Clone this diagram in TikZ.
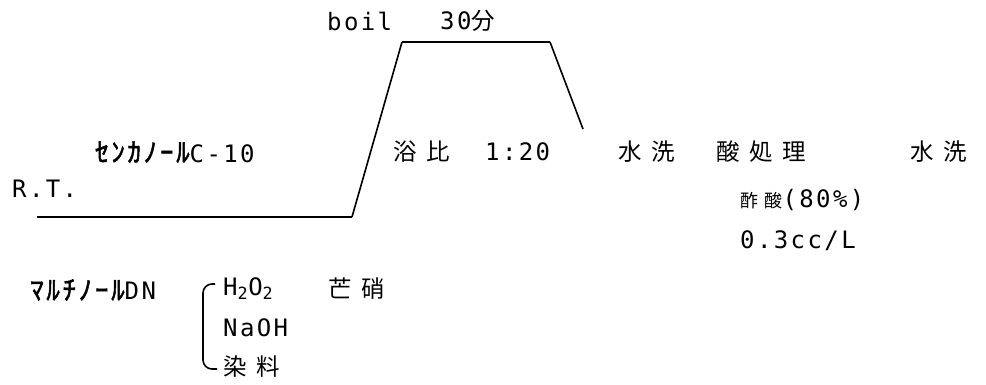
\documentclass[tikz,border=0pt]{standalone}
\usepackage{fontspec}
\setmainfont{DejaVu Sans Mono}[LetterSpace=10]
\newfontfamily\jp{Noto Sans CJK JP}[LetterSpace=42]
\newfontfamily\jpsmall{Noto Sans CJK JP}[LetterSpace=35]
\newfontfamily\jpb{Noto Sans CJK JP}[FakeBold=1.8,LetterSpace=10]

\tikzstyle{txt} = [anchor=west,inner sep=0pt,font=\fontsize{24}{28}\selectfont]
\tikzstyle{jptxt} = [anchor=west,inner sep=0pt,font=\fontsize{23.5}{28}\selectfont\jp]
\tikzstyle{flat} = [line width=2.6pt]
\tikzstyle{ramp} = [line width=1.6pt]

\begin{document}
\begin{tikzpicture}[x=1pt,y=-1pt]

	\useasboundingbox (0,0) rectangle (986,385);

	% temperature curve
	\coordinate (start) at (37,217);
	\coordinate (up) at (352,217);
	\coordinate (top_l) at (402,42);
	\coordinate (top_r) at (550,42);
	\coordinate (down) at (583,129);

	\draw[flat] (start) -- (up);
	\draw[ramp] (up) -- (top_l);
	\draw[flat] (top_l) -- (top_r);
	\draw[ramp] (top_r) -- (down);

	% labels
	\node (boil) [txt] at (327,21) {boil};
	\node (time) [txt] at (440,21) {30{\fontsize{23.5}{28}\selectfont\jp 分}};
	\node (rt) [txt] at (12,189) {R.T.};
	\node (senka) [txt] at (95,152) {{\fontsize{27}{32}\selectfont\jpb ｾﾝｶﾉｰﾙ}C-10};
	\node (ratio_j) [jptxt] at (393,152) {浴比};
	\node (ratio) [txt] at (485,152) {1:20};
	\node (wash1) [jptxt] at (618,152) {水洗};
	\node (acid) [jptxt] at (716,152) {酸処理};
	\node (wash2) [jptxt] at (910,152) {水洗};
	\node (acetic) [txt] at (740,200) {{\fontsize{18}{22}\selectfont\jpsmall 酢酸}(80\%)};
	\node (dose) [txt] at (740,241) {0.3cc/L};
	\node (maru) [txt] at (30,290) {{\fontsize{27}{32}\selectfont\jpb ﾏﾙﾁﾉｰﾙ}DN};
	\node (h2o2) [txt] at (223,289) {H\textsubscript{2}O\textsubscript{2}};
	\node (bosho) [jptxt] at (328,289) {芒硝};
	\node (naoh) [txt] at (223,328) {NaOH};
	\node (dye) [jptxt] at (223,367) {染料};

	% bracket
	\coordinate (br_top) at (215,284);
	\coordinate (br_bot) at (217,369);
	\draw[ramp,rounded corners=9pt] (br_top) -- (203,284) -- (203,369) -- (br_bot);

\end{tikzpicture}
\end{document}
